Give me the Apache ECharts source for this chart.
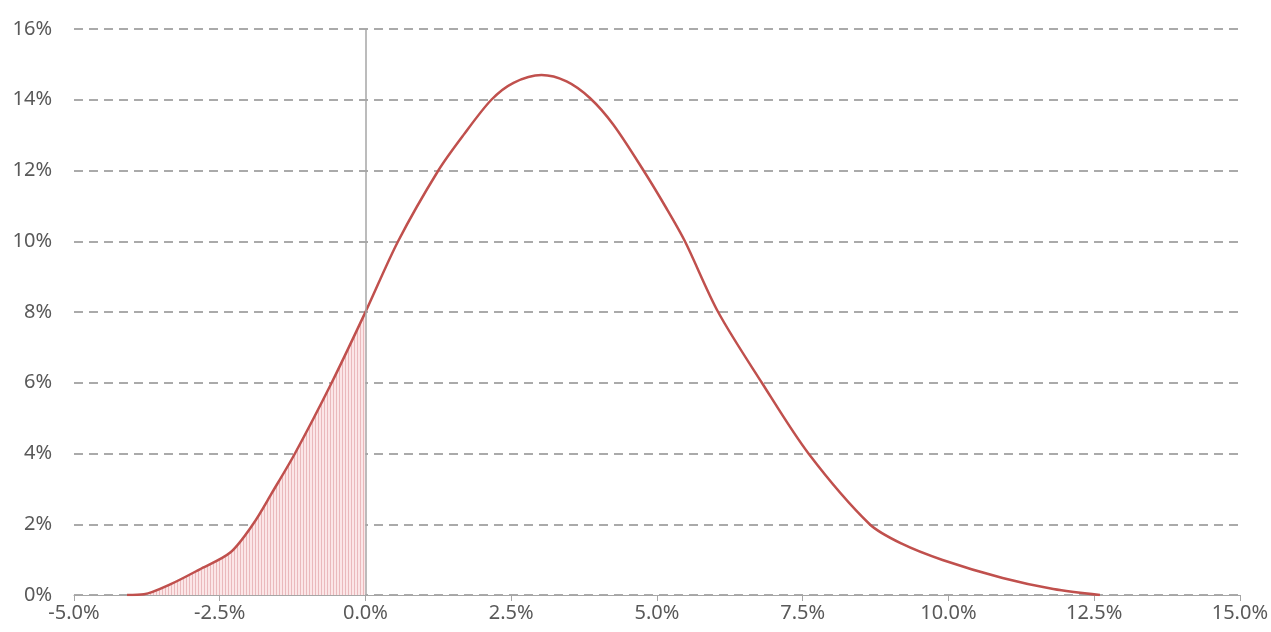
<!DOCTYPE html>
<html>
<head>
<meta charset="utf-8">
<script src="https://cdn.jsdelivr.net/npm/echarts@6/dist/echarts.min.js"></script>
<style>
  html, body { margin: 0; padding: 0; background: #fff; }
  #chart { width: 1271px; height: 632px; }
</style>
</head>
<body>
<div id="chart"></div>
<script>
// return (%) and probability (%)
const returns = [-4.09, -3.8, -3.35, -2.85, -2.32, -1.93, -1.6, -1.21, -0.58, 0.0, 0.56, 1.25, 1.68, 2.16, 2.54, 3.02, 3.45, 3.85, 4.25, 4.77, 5.16, 5.48, 6.05, 6.8, 7.6, 8.65, 9.2, 9.9, 10.93, 11.8, 12.6];
const probability = [0.0, 0.02, 0.3, 0.72, 1.2, 2.0, 2.9, 4.0, 6.0, 8.0, 10.0, 12.0, 13.0, 14.0, 14.48, 14.7, 14.52, 14.05, 13.3, 12.0, 10.94, 10.0, 8.0, 6.0, 4.0, 2.0, 1.45, 0.99, 0.48, 0.17, 0.0];
const xTicks = { min: -5, max: 15, step: 2.5 };
const yTicks = { min: 0, max: 16, step: 2 };

const curve = returns.map((x, i) => [x, probability[i]]);
const lossArea = curve.filter(p => p[0] <= 0);

// vertical hatch pattern for the shaded loss region
const makeHatch = () => {
  const c = document.createElement('canvas');
  c.width = 3;
  c.height = 4;
  const ctx = c.getContext('2d');
  ctx.fillStyle = '#fbe6e7';
  ctx.fillRect(0, 0, 3, 4);
  ctx.fillStyle = '#eab9bc';
  ctx.fillRect(0, 0, 1, 4);
  return c;
};

const chart = echarts.init(document.getElementById('chart'));

const textColor = '#595959';
const fontFamily = '"Noto Sans", Roboto, sans-serif';

chart.setOption({
  animation: false,
  grid: { left: 74, right: 31, top: 29, bottom: 37 },
  xAxis: {
    type: 'value',
    min: xTicks.min,
    max: xTicks.max,
    interval: xTicks.step,
    axisLine: { lineStyle: { color: '#a6a6a6', width: 1 } },
    axisTick: { show: true, length: 6, lineStyle: { color: '#a6a6a6' } },
    axisLabel: {
      color: textColor,
      fontSize: 20,
      fontFamily: fontFamily,
      margin: 8,
      formatter: v => v.toFixed(1) + '%'
    },
    splitLine: { show: false }
  },
  yAxis: {
    type: 'value',
    min: yTicks.min,
    max: yTicks.max,
    interval: yTicks.step,
    axisLine: { show: false },
    axisTick: { show: false },
    axisLabel: {
      color: textColor,
      fontSize: 20,
      fontFamily: fontFamily,
      margin: 22,
      formatter: '{value}%'
    },
    splitLine: {
      lineStyle: { color: '#aaaaaa', type: [9, 6], width: 2 }
    }
  },
  series: [
    {
      name: 'loss',
      type: 'line',
      data: lossArea,
      smooth: 0.3,
      symbol: 'none',
      lineStyle: { width: 0 },
      areaStyle: {
        color: { image: makeHatch(), repeat: 'repeat' },
        opacity: 1
      },
      z: 1
    },
    {
      name: 'distribution',
      type: 'line',
      data: curve,
      smooth: 0.3,
      symbol: 'none',
      lineStyle: { color: '#c0504d', width: 2.5 },
      markLine: {
        silent: true,
        symbol: 'none',
        label: { show: false },
        lineStyle: { color: '#a6a6a6', type: 'solid', width: 1.5 },
        data: [{ xAxis: 0 }]
      },
      z: 3
    }
  ]
});
</script>
</body>
</html>
